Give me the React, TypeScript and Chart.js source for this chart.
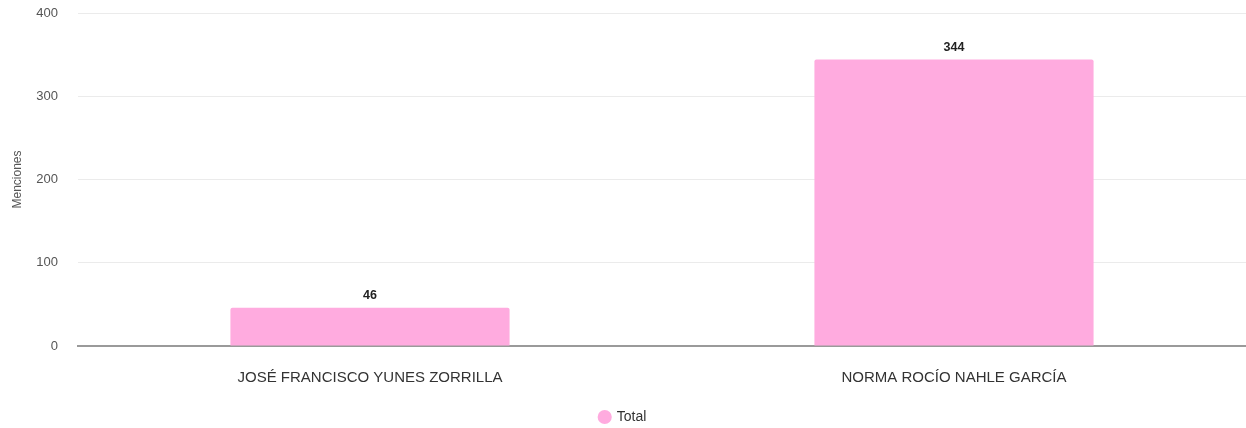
import React, { useEffect, useRef } from "react";
import { Chart, registerables } from "chart.js";

Chart.register(...registerables);

const categories = ["JOSÉ FRANCISCO YUNES ZORRILLA", "NORMA ROCÍO NAHLE GARCÍA"];
const totals = [46, 344];
const seriesLabel = "Total";
const yTitle = "Menciones";

const FONT = "'Liberation Sans', Arial, Helvetica, sans-serif";

const valueLabels = {
  id: "valueLabels",
  afterLayout(chart: any) {
    // nudge the legend a little lower, as in the reference
    if (chart.legend) {
      chart.legend.top += 6;
      chart.legend.bottom += 6;
    }
  },
  afterDatasetsDraw(chart: any) {
    const ctx = chart.ctx;
    ctx.save();
    ctx.font = `bold 12.5px ${FONT}`;
    ctx.fillStyle = "#222";
    ctx.textAlign = "center";
    ctx.textBaseline = "bottom";
    chart.data.datasets.forEach((ds: any, i: number) => {
      const meta = chart.getDatasetMeta(i);
      meta.data.forEach((el: any, j: number) => {
        ctx.fillText(String(ds.data[j]), el.x, el.y - 6);
      });
    });
    ctx.restore();
  },
};

export default function App() {
  const ref = useRef<HTMLCanvasElement | null>(null);
  useEffect(() => {
    document.body.style.margin = "0";
    const chart = new Chart(ref.current!, {
      type: "bar",
      data: {
        labels: categories,
        datasets: [
          {
            label: seriesLabel,
            data: totals,
            backgroundColor: "#ffabdf",
            borderRadius: 2,
            categoryPercentage: 1,
            barPercentage: 0.478,
          },
        ],
      },
      options: {
        animation: false,
        responsive: false,
        maintainAspectRatio: false,
        layout: { padding: { top: 13, right: 0, left: 0, bottom: 0 } },
        plugins: {
          legend: {
            position: "bottom",
            labels: {
              usePointStyle: true,
              pointStyle: "circle",
              boxWidth: 10,
              boxHeight: 10,
              color: "#333",
              font: { family: FONT, size: 14 },
              padding: 4,
            },
          },
          tooltip: { enabled: false },
        },
        scales: {
          x: {
            grid: { display: false },
            border: { color: "#9a9a9a", width: 2 },
            ticks: { color: "#333", font: { family: FONT, size: 15 }, padding: 15 },
            afterFit(scale: any) {
              scale.height = 54;
            },
          },
          y: {
            min: 0,
            max: 400,
            ticks: { stepSize: 100, color: "#555", font: { family: FONT, size: 13 }, padding: 0 },
            grid: { color: "#ebebeb", drawTicks: true, tickLength: 20, tickColor: "rgba(0,0,0,0)" },
            border: { display: false },
            title: {
              display: true,
              text: yTitle,
              color: "#555",
              font: { family: FONT, size: 12 },
              padding: { top: 10, bottom: 0 },
            },
            afterFit(scale: any) {
              scale.width = 78;
            },
          },
        },
      },
      plugins: [valueLabels],
    });
    return () => chart.destroy();
  }, []);
  return (
    <div style={{ width: 1246, height: 428 }}>
      <canvas ref={ref} width={1246} height={428} />
    </div>
  );
}
